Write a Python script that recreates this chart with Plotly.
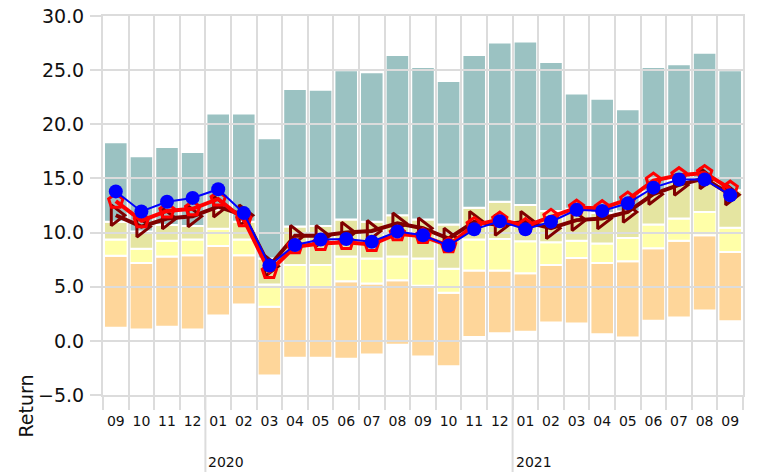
import plotly.graph_objects as go

months = ["09","10","11","12","01","02","03","04","05","06","07","08","09",
          "10","11","12","01","02","03","04","05","06","07","08","09"]
year_labels = ["2020", "2021"]
year_start_idx = [4, 16]

band_low = [1.2, 1.05, 1.3, 1.05, 2.35, 3.35, -3.2, -1.55, -1.55, -1.65, -1.25, -0.35, -1.45,
            -2.35, 0.35, 0.7, 0.85, 1.7, 1.6, 0.6, 0.3, 1.85, 2.15, 2.8, 1.8]
band_q1 = [7.85, 7.2, 7.8, 7.9, 8.75, 7.9, 3.15, 4.95, 4.95, 5.5, 5.3, 5.6, 5.1,
           4.45, 6.5, 6.5, 6.25, 7.0, 7.65, 7.2, 7.35, 8.55, 9.25, 9.75, 8.2]
band_q2 = [9.35, 8.5, 9.25, 9.35, 10.35, 9.35, 5.2, 7.0, 7.0, 7.8, 7.6, 7.8, 7.6,
           6.65, 9.35, 9.4, 9.2, 9.1, 9.25, 9.0, 9.5, 10.75, 11.3, 11.9, 10.45]
band_q3 = [11.0, 10.1, 10.7, 10.6, 12.1, 11.0, 7.6, 10.55, 10.6, 11.2, 11.0, 11.6, 11.2,
           10.75, 12.3, 12.85, 12.55, 12.0, 12.2, 11.8, 11.95, 13.8, 14.85, 15.0, 13.9]
band_high = [18.35, 17.05, 17.9, 17.45, 21.0, 21.0, 18.7, 23.25, 23.2, 25.0, 24.8, 26.4, 25.3,
             24.0, 26.4, 27.55, 27.65, 25.75, 22.85, 22.35, 21.4, 25.3, 25.55, 26.6, 25.0]

blue_vals = [13.8, 11.95, 12.85, 13.2, 14.0, 11.8, 6.95, 8.85, 9.35, 9.4, 9.15, 10.1, 9.75,
             8.8, 10.3, 11.05, 10.3, 11.0, 12.1, 12.0, 12.7, 14.15, 14.9, 14.9, 13.45]
red_vals = [12.9, 11.1, 12.0, 12.2, 13.1, 11.2, 6.4, 8.7, 9.0, 9.1, 8.9, 9.9, 9.65,
            8.8, 10.7, 11.2, 10.6, 11.45, 12.3, 12.25, 13.05, 14.8, 15.3, 15.5, 14.05]
darkred_vals = [11.6, 10.55, 11.3, 11.5, 12.4, 11.6, 6.9, 9.7, 9.7, 10.0, 10.15, 10.85, 10.4,
                9.45, 11.0, 10.7, 11.0, 10.4, 11.15, 11.3, 11.9, 13.55, 14.4, 15.0, 13.5]

y_ticks = [-5, 0, 5, 10, 15, 20, 25, 30]

xs = list(range(len(months)))
grid = "#DCDCDC"
font_main = "DejaVu Sans, Verdana, sans-serif"

fig = go.Figure()

bands = [
    (band_low, band_q1, "#FED69A"),
    (band_q1, band_q2, "#FFFFA8"),
    (band_q2, band_q3, "#E5E5A1"),
    (band_q3, band_high, "#9BC2C2"),
]
for lo, hi, col in bands:
    fig.add_trace(go.Bar(
        x=xs, y=[h - l for l, h in zip(lo, hi)], base=lo, width=0.92,
        marker=dict(color=col, line=dict(color="white", width=2)),
        xaxis="x", yaxis="y", showlegend=False, hoverinfo="skip"))

fig.add_trace(go.Scatter(
    x=xs, y=darkred_vals, mode="lines+markers", xaxis="x2", yaxis="y2",
    line=dict(color="#800000", width=4),
    marker=dict(symbol="triangle-right-open", size=18, color="#800000", line=dict(width=3)),
    showlegend=False))
fig.add_trace(go.Scatter(
    x=xs, y=red_vals, mode="lines+markers", xaxis="x2", yaxis="y2",
    line=dict(color="#FF0000", width=4),
    marker=dict(symbol="pentagon-open", size=15, color="#FF0000", line=dict(width=3)),
    showlegend=False))
fig.add_trace(go.Scatter(
    x=xs, y=blue_vals, mode="lines+markers", xaxis="x2", yaxis="y2",
    line=dict(color="#0000FF", width=2),
    marker=dict(symbol="circle", size=14, color="#0000FF"),
    showlegend=False))

xr = [-0.5, len(months) - 0.5]
yr = [-5, 30]
boundaries = [i - 0.5 for i in range(len(months) + 1)]

fig.update_layout(
    width=757, height=472,
    margin=dict(l=103, r=14, t=16, b=77, autoexpand=False),
    paper_bgcolor="white", plot_bgcolor="rgba(0,0,0,0)",
    barmode="overlay",
    xaxis=dict(range=xr, domain=[0, 1], anchor="y", tickmode="array", tickvals=xs, ticktext=months,
               showgrid=False, zeroline=False, ticks="outside", ticklen=13, automargin=False,
               tickcolor="rgba(0,0,0,0)", tickfont=dict(family=font_main, size=14, color="#111")),
    yaxis=dict(range=yr, domain=[0, 1], anchor="x", tickmode="array", tickvals=y_ticks,
               tickformat=".1f", showgrid=False, zeroline=False, ticks="outside", ticklen=14,
               ticklabeloverflow="allow", automargin=False,
               tickcolor="rgba(0,0,0,0)", tickfont=dict(family=font_main, size=19, color="#111")),
    xaxis2=dict(range=xr, domain=[0, 1], anchor="y2", tickmode="array", tickvals=boundaries,
                showticklabels=False, showgrid=True, gridcolor=grid, gridwidth=2, automargin=False,
                zeroline=False, ticks="outside", ticklen=13, tickcolor=grid, tickwidth=2,
                showline=True, mirror=True, linecolor=grid, linewidth=2),
    yaxis2=dict(range=yr, domain=[0, 1], anchor="x2", tickmode="array", tickvals=y_ticks,
                showticklabels=False, showgrid=True, gridcolor=grid, gridwidth=2, automargin=False,
                zeroline=False, ticks="outside", ticklen=11, tickcolor=grid, tickwidth=2,
                showline=True, mirror=True, linecolor=grid, linewidth=2),
)

for idx, lab in zip(year_start_idx, year_labels):
    fig.add_shape(type="line", xref="x2", yref="paper", x0=idx - 0.5, x1=idx - 0.5,
                  y0=0, y1=-0.21, line=dict(color=grid, width=2), layer="above")
    fig.add_annotation(x=idx - 0.5, xref="x2", y=-0.177, yref="paper", text=lab,
                       showarrow=False, xanchor="left", yanchor="middle", xshift=1,
                       font=dict(family=font_main, size=14, color="#111"))

fig.add_annotation(x=-0.12, xref="paper", y=-0.03, yref="paper", text="Return",
                   textangle=-90, showarrow=False, xanchor="center", yanchor="middle",
                   font=dict(family=font_main, size=19, color="#111"))

fig.write_html("out.html", config={"displayModeBar": False},
               post_script="document.body.style.margin='0';document.body.style.padding='0';")
